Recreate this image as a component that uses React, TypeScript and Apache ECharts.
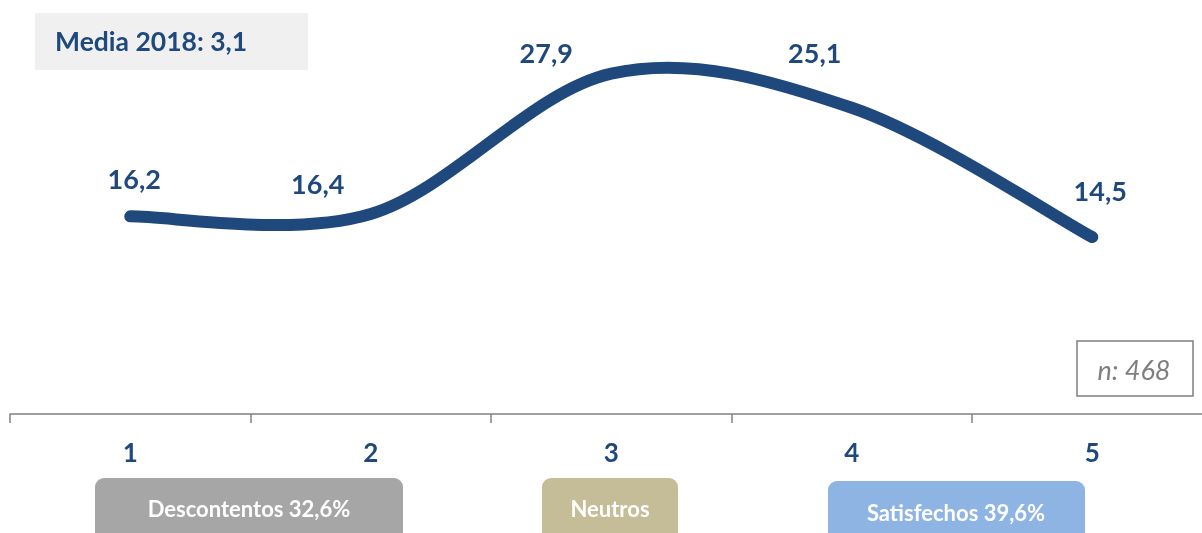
import React, { useEffect, useRef } from "react";
import * as echarts from "echarts";

const categories = ["1", "2", "3", "4", "5"];
const values = [16.2, 16.4, 27.9, 25.1, 14.5];
const valueLabels = ["16,2", "16,4", "27,9", "25,1", "14,5"];
const mediaText = "Media 2018: 3,1";
const nText = "n: 468";
const groupLabels = ["Descontentos 32,6%", "Neutros", "Satisfechos 39,6%"];

// label offsets (style only)
const labelOffsets = [
  [4, -38],
  [-53, -30],
  [-65, -21],
  [-37, -55],
  [8, -47],
];

const BLUE = "#1F497D";
const FONT = "Lato, 'Open Sans', sans-serif";

export default function App() {
  const ref = useRef<HTMLDivElement>(null);
  useEffect(() => {
    if (!ref.current) return;
    const chart = echarts.init(ref.current, undefined, { renderer: "svg" });
    const boxes = [
      { x: 95, y: 478, w: 308, h: 70, color: "#A6A6A6", cx: 249, cy: 508 },
      { x: 542, y: 478, w: 136, h: 70, color: "#C4BD97", cx: 610, cy: 508 },
      { x: 828, y: 481, w: 257, h: 70, color: "#8EB4E3", cx: 956, cy: 512 },
    ];
    const graphics: any[] = [
      {
        type: "rect",
        shape: { x: 35, y: 13, width: 273, height: 57 },
        style: { fill: "#F0F0F0" },
        z: 1,
      },
      {
        type: "text",
        x: 55,
        y: 41,
        style: {
          text: mediaText,
          fill: BLUE,
          font: `bold 26.5px ${FONT}`,
          textVerticalAlign: "middle",
          textAlign: "left",
        },
        z: 2,
      },
      {
        type: "rect",
        shape: { x: 1077, y: 341, width: 116, height: 55 },
        style: { fill: "#ffffff", stroke: "#808080", lineWidth: 1.5 },
        z: 1,
      },
      {
        type: "text",
        x: 1134,
        y: 369,
        style: {
          text: nText,
          fill: "#7F7F7F",
          font: `italic 27px ${FONT}`,
          textVerticalAlign: "middle",
          textAlign: "center",
        },
        z: 2,
      },
    ];
    boxes.forEach((b, i) => {
      graphics.push({
        type: "rect",
        shape: { x: b.x, y: b.y, width: b.w, height: b.h, r: 9 },
        style: { fill: b.color },
        z: 1,
      });
      graphics.push({
        type: "text",
        x: b.cx,
        y: b.cy,
        style: {
          text: groupLabels[i],
          fill: "#ffffff",
          font: `bold 22px ${FONT}`,
          textVerticalAlign: "middle",
          textAlign: "center",
        },
        z: 2,
      });
    });

    const renderCurve = (params: any, api: any) => {
      if (params.dataIndex !== 0) return null;
      const pts = values.map((v, i) => api.coord([i, v]));
      let d = `M${pts[0][0]},${pts[0][1]}`;
      for (let i = 0; i < pts.length - 1; i++) {
        const p0 = pts[i - 1] || pts[i];
        const p1 = pts[i];
        const p2 = pts[i + 1];
        const p3 = pts[i + 2] || pts[i + 1];
        const c1x = p1[0] + (p2[0] - p0[0]) / 6;
        const c1y = p1[1] + (p2[1] - p0[1]) / 6;
        const c2x = p2[0] - (p3[0] - p1[0]) / 6;
        const c2y = p2[1] - (p3[1] - p1[1]) / 6;
        d += ` C${c1x},${c1y} ${c2x},${c2y} ${p2[0]},${p2[1]}`;
      }
      return {
        type: "path",
        shape: { pathData: d },
        style: {
          stroke: BLUE,
          lineWidth: 12,
          fill: "none",
          lineCap: "round",
          lineJoin: "round",
        },
      };
    };

    chart.setOption({
      animation: false,
      grid: {
        left: 10,
        top: 48,
        width: 1202.5,
        height: 366,
        outerBoundsMode: "none",
        containLabel: false,
      },
      xAxis: {
        type: "category",
        data: categories,
        boundaryGap: true,
        axisLine: { lineStyle: { color: "#808080", width: 1.5 } },
        axisTick: { show: true, length: 9, lineStyle: { color: "#808080", width: 1.5 } },
        axisLabel: {
          color: BLUE,
          fontFamily: FONT,
          fontWeight: "bold",
          fontSize: 26,
          margin: 25,
        },
        splitLine: { show: false },
      },
      yAxis: {
        type: "value",
        min: 0,
        max: 30,
        show: false,
        splitLine: { show: false },
      },
      series: [
        {
          type: "custom",
          renderItem: renderCurve,
          data: [[0, values[0]]],
          encode: { x: 0, y: 1 },
          clip: false,
          z: 2,
        },
        {
          type: "line",
          symbol: "circle",
          symbolSize: 1,
          itemStyle: { color: "rgba(0,0,0,0)" },
          lineStyle: { width: 0, color: "rgba(0,0,0,0)" },
          z: 3,
          data: values.map((v, i) => ({
            value: v,
            label: {
              show: true,
              position: "inside",
              offset: labelOffsets[i],
              formatter: valueLabels[i],
              color: BLUE,
              fontFamily: FONT,
              fontWeight: "bold",
              fontSize: 27,
            },
          })),
        },
      ],
      graphic: graphics,
    });
    return () => chart.dispose();
  }, []);
  return (
    <div
      ref={ref}
      style={{ position: "fixed", left: 0, top: 0, width: 1202, height: 533 }}
    />
  );
}
